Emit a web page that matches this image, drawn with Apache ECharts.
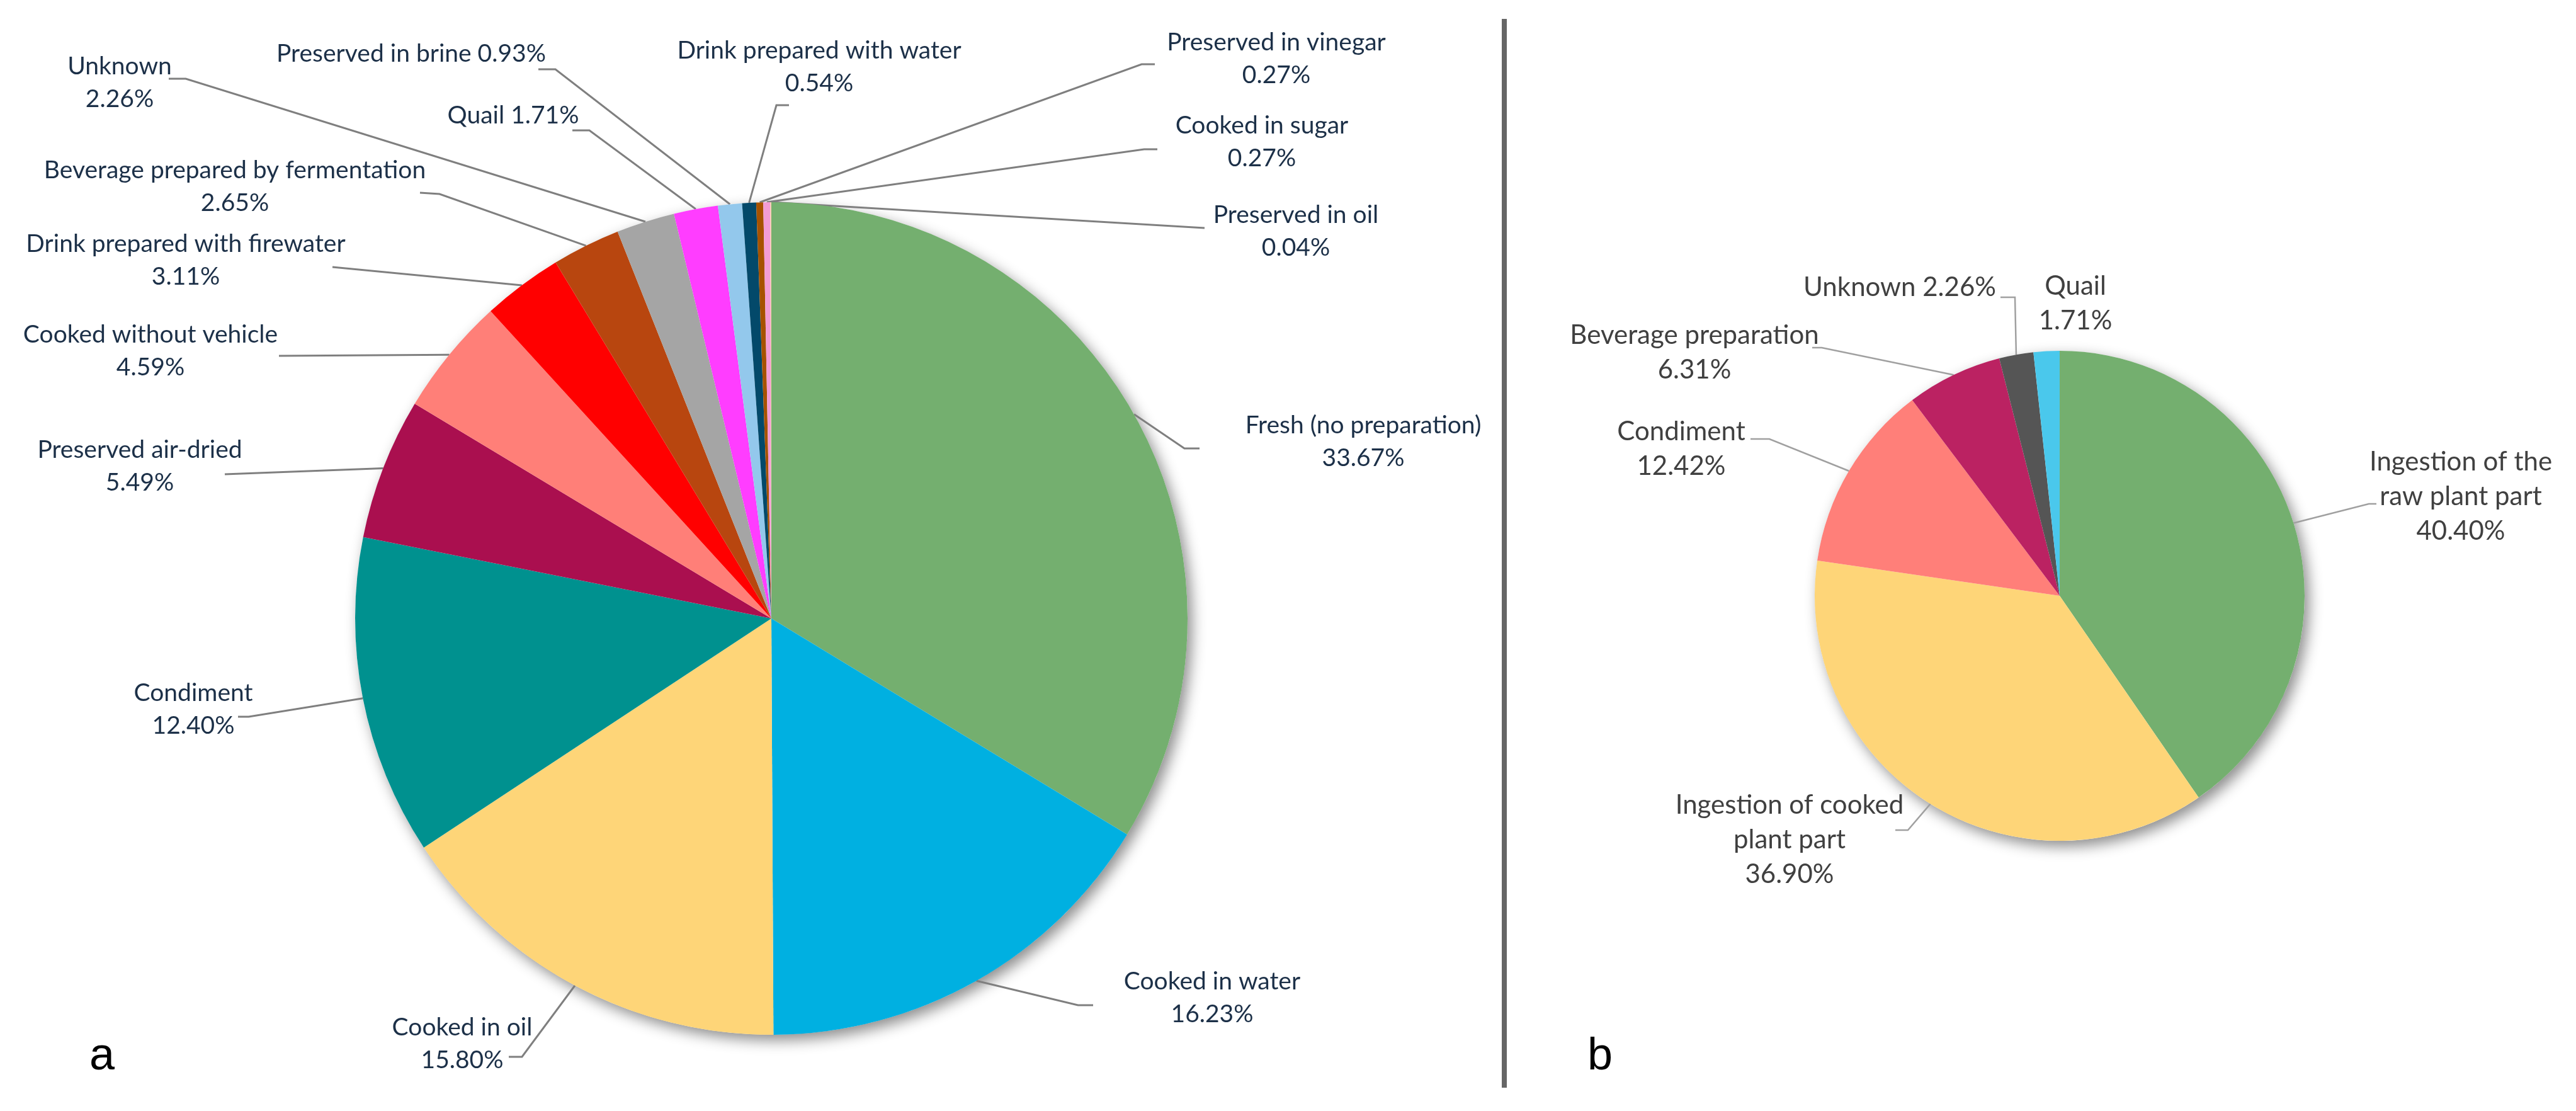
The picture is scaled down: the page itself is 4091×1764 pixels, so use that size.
<!DOCTYPE html>
<html>
<head>
<meta charset="utf-8">
<script src="https://cdn.jsdelivr.net/npm/echarts@6/dist/echarts.min.js"></script>
<style>
html,body{margin:0;padding:0;background:#fff;}
#chart{width:4091px;height:1764px;}
</style>
</head>
<body>
<div id="chart"></div>
<script>
// ---------- DATA ----------
const catsA = ['Fresh (no preparation)', 'Cooked in water', 'Cooked in oil', 'Condiment',
  'Preserved air-dried', 'Cooked without vehicle', 'Drink prepared with firewater',
  'Beverage prepared by fermentation', 'Unknown', 'Quail', 'Preserved in brine',
  'Drink prepared with water', 'Preserved in vinegar', 'Cooked in sugar', 'Preserved in oil'];
const valsA = [33.67, 16.23, 15.80, 12.40, 5.49, 4.59, 3.11, 2.65, 2.26, 1.71, 0.93, 0.54, 0.27, 0.27, 0.04];

const catsB = ['Ingestion of the raw plant part', 'Ingestion of cooked plant part', 'Condiment',
  'Beverage preparation', 'Unknown', 'Quail'];
const valsB = [40.40, 36.90, 12.42, 6.31, 2.26, 1.71];

const panelLabels = ['a', 'b'];

// ---------- STYLE / LAYOUT ----------
const colorsA = ['#74AF6F', '#00B0E1', '#FED578', '#00918F', '#AA0F4F', '#FF7F78', '#FF0000',
  '#B8460F', '#A5A5A5', '#FF3DFF', '#93C8EC', '#03496A', '#A65200', '#F39DD5', '#F8CBAD'];
const colorsB = ['#74AF6F', '#FED578', '#FF7F79', '#BB2262', '#555555', '#4AC8EC'];

const pieA = {c: [1225, 982], r: 661};
const pieB = {c: [3271, 946], r: 389};

// separator between name and value in each label ('\n' = two lines)
const sepA = ['\n', '\n', '\n', '\n', '\n', '\n', '\n', '\n', '\n', ' ', ' ', '\n', '\n', '\n', '\n'];
const sepB = ['\n', '\n', '\n', '\n', ' ', '\n'];
// word index after which the name wraps (0 = no wrap)
const wrapB = [3, 3, 0, 0, 0, 0];

// label block centres
const posA = [[2165, 701], [1925, 1584], [734, 1657], [307, 1126], [222, 740], [239, 557],
  [295, 413], [373, 296], [190, 131], [815, 183], [653, 85], [1301, 106], [2027, 93],
  [2004, 225], [2058, 367]];
// leader elbow and end points
const lineA = [
  [[1881, 712], [1905, 712]],
  [[1712, 1596], [1736, 1596]],
  [[829, 1678], [808, 1678]],
  [[395, 1138], [378, 1138]],
  [[357, 753], [357, 753]],
  [[443, 565], [443, 565]],
  [[528, 424], [528, 424]],
  [[698, 308], [667, 306]],
  [[295, 125], [268, 125]],
  [[936, 207], [909, 207]],
  [[882, 110], [855, 110]],
  [[1233, 167], [1253, 167]],
  [[1813, 102], [1834, 102]],
  [[1817, 237], [1838, 237]],
  [[1913, 362], [1913, 362]]
];
const posB = [[3908, 788], [2842, 1333], [2670, 713], [2691, 560], [3017, 456], [3296, 482]];
const lineB = [
  [[3762, 800], [3774, 800]],
  [[3030, 1318], [3010, 1318]],
  [[2810, 697], [2780, 697]],
  [[2893, 552], [2878, 552]],
  [[3200, 472], [3177, 472]],
  null
];

function edgePoints(vals, pie) {
  const total = vals.reduce((a, b) => a + b, 0);
  let cum = 0;
  return vals.map(v => {
    const mid = (cum + v / 2) / total * Math.PI * 2;
    cum += v;
    return [pie.c[0] + pie.r * Math.sin(mid), pie.c[1] - pie.r * Math.cos(mid)];
  });
}
const edgeA = edgePoints(valsA, pieA);
const edgeB = edgePoints(valsB, pieB);

function wrapName(name, n) {
  if (!n) return name;
  const w = name.split(' ');
  return w.slice(0, n).join(' ') + '\n' + w.slice(n).join(' ');
}

const dataA = catsA.map((n, i) => ({name: n, value: valsA[i], itemStyle: {color: colorsA[i]}}));
const dataB = catsB.map((n, i) => ({
  name: n, value: valsB[i], itemStyle: {color: colorsB[i]},
  labelLine: {show: lineB[i] !== null}
}));

const chart = echarts.init(document.getElementById('chart'), null, {renderer: 'canvas'});

function shadowSeries(pie) {
  return {
    type: 'pie', silent: true, z: 1, center: pie.c, radius: pie.r,
    label: {show: false}, labelLine: {show: false},
    itemStyle: {color: '#ffffff', shadowBlur: 22, shadowOffsetX: 7, shadowOffsetY: 9,
      shadowColor: 'rgba(0,0,0,0.45)'},
    data: [{value: 1, name: ''}], animation: false
  };
}

const option = {
  backgroundColor: '#ffffff',
  animation: false,
  graphic: [
    {type: 'rect', shape: {x: 2385, y: 30, width: 8, height: 1697}, style: {fill: '#666666'}},
    {type: 'text', x: 162, y: 1678, style: {text: panelLabels[0], font: '72px "Liberation Sans", Arial, sans-serif', fill: '#000', textAlign: 'center', textVerticalAlign: 'middle'}},
    {type: 'text', x: 2541, y: 1678, style: {text: panelLabels[1], font: '72px "Liberation Sans", Arial, sans-serif', fill: '#000', textAlign: 'center', textVerticalAlign: 'middle'}}
  ],
  series: [
    shadowSeries(pieA),
    shadowSeries(pieB),
    {
      type: 'pie', z: 2, center: pieA.c, radius: pieA.r, startAngle: 90, clockwise: true,
      avoidLabelOverlap: false, silent: true,
      itemStyle: {borderWidth: 0},
      label: {
        show: true, position: 'outside', color: '#1C3048', fontFamily: 'Lato', fontSize: 39,
        lineHeight: 52, align: 'center',
        formatter: p => p.name + sepA[p.dataIndex] + p.value.toFixed(2) + '%'
      },
      labelLine: {show: true, length: 10, length2: 10, lineStyle: {color: '#7F7F7F', width: 3}},
      labelLayout: p => {
        const i = p.dataIndex;
        return {
          x: posA[i][0], y: posA[i][1], align: 'center', verticalAlign: 'middle',
          labelLinePoints: [edgeA[i], lineA[i][0], lineA[i][1]]
        };
      },
      data: dataA
    },
    {
      type: 'pie', z: 2, center: pieB.c, radius: pieB.r, startAngle: 90, clockwise: true,
      avoidLabelOverlap: false, silent: true,
      itemStyle: {borderWidth: 0},
      label: {
        show: true, position: 'outside', color: '#404040', fontFamily: 'Lato', fontSize: 42,
        lineHeight: 55, align: 'center',
        formatter: p => wrapName(p.name, wrapB[p.dataIndex]) + sepB[p.dataIndex] + p.value.toFixed(2) + '%'
      },
      labelLine: {show: true, length: 10, length2: 10, lineStyle: {color: '#A0A0A0', width: 2.5}},
      labelLayout: p => {
        const i = p.dataIndex;
        const o = {x: posB[i][0], y: posB[i][1], align: 'center', verticalAlign: 'middle'};
        if (lineB[i]) o.labelLinePoints = [edgeB[i], lineB[i][0], lineB[i][1]];
        return o;
      },
      data: dataB
    }
  ]
};
chart.setOption(option);
</script>
</body>
</html>
